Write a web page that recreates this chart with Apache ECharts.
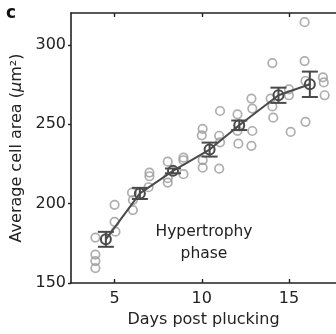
<!DOCTYPE html>
<html><head><meta charset="utf-8">
<script src="https://cdn.jsdelivr.net/npm/echarts@6/dist/echarts.min.js"></script>
<style>html,body{margin:0;padding:0;background:#fff}#c{width:336px;height:334px}</style>
</head><body><div id="c"></div>
<script>
// individual measurements (day, area)
const pointDays = [3.9,3.9,3.9,3.9,5.0,5.0,5.05,
  6.0,6.05,6.05,6.95,7.0,7.0,
  8.05,8.05,8.05,8.95,8.95,8.95,
  10.05,10.0,10.05,10.05,11.05,11.0,11.05,11.0,
  12.05,12.05,12.1,12.85,12.9,12.9,12.85,
  14.05,13.95,14.05,14.1,15.0,15.0,15.1,
  15.9,15.9,15.95,15.95,16.95,17.0,17.05];
const pointAreas = [178.6,167.9,163.8,159.4,199.2,188.5,182.3,
  206.9,202.2,195.9,210.3,217.2,219.5,
  226.4,216,213.2,228.9,227.3,218.5,
  247.1,243,227.3,222.6,258.3,242.7,238.6,222,
  256.2,245.8,237.7,266.1,259.8,245.7,236.4,
  288.5,266.1,261.2,254.1,271.9,268.2,245.1,
  314.2,289.7,277.2,251.5,279.5,276.3,268.2];
// group means with error
const meanDays = [4.5,6.45,8.35,10.45,12.15,14.4,16.2];
const meanAreas = [177.5,206.4,220.6,234,249.3,268.2,275.1];
const meanErr = [4.7,3.5,1.5,4.4,3,4.8,8];
const xTicks = [5,10,15];
const yTicks = [150,200,250,300];

const FONT = 'DejaVu Sans';
const chart = echarts.init(document.getElementById('c'));
const pts = pointDays.map((d,i)=>[d,pointAreas[i]]);
const means = meanDays.map((d,i)=>[d,meanAreas[i]]);
const errs = meanDays.map((d,i)=>[d,meanAreas[i]-meanErr[i],meanAreas[i]+meanErr[i]]);

chart.setOption({
  animation:false,
  backgroundColor:'#fff',
  textStyle:{fontFamily:FONT},
  grid:{left:71,top:13,right:0,bottom:51,containLabel:false},
  graphic:[
    {type:'text',left:6,top:5,style:{text:'c',font:'bold 17px "DejaVu Sans"',fill:'#111'}},
    {type:'text',x:204,y:243,style:{text:'Hypertrophy\nphase',font:'15.5px "DejaVu Sans"',fill:'#222',align:'center',verticalAlign:'middle',lineHeight:21.6}}
  ],
  xAxis:[{
    type:'value',min:2.5,max:17.7,
    name:'Days post plucking',nameLocation:'middle',nameGap:28,
    nameTextStyle:{fontSize:16,color:'#222',fontFamily:FONT},
    axisLine:{lineStyle:{color:'#222',width:1.6}},
    axisTick:{inside:true,length:4,customValues:xTicks,lineStyle:{color:'#222',width:1.4}},
    axisLabel:{fontSize:16,color:'#222',fontFamily:FONT,margin:8,customValues:xTicks},
    splitLine:{show:false}
  },{
    type:'value',min:2.5,max:17.7,position:'top',
    axisLine:{show:true,lineStyle:{color:'#222',width:1.6}},
    axisTick:{inside:true,length:4,customValues:xTicks,lineStyle:{color:'#222',width:1.4}},
    axisLabel:{show:false},splitLine:{show:false}
  }],
  yAxis:{
    type:'value',min:150,max:320,
    name:'{a|Average cell area (}{b|μ}{a|m²)}',nameLocation:'middle',nameRotate:90,nameGap:44,
    nameTextStyle:{rich:{a:{fontSize:16,color:'#222',fontFamily:FONT},b:{fontSize:16,color:'#222',fontFamily:FONT,fontStyle:'italic'}}},
    axisLine:{show:true,lineStyle:{color:'#222',width:1.6}},
    axisTick:{inside:false,length:3,customValues:yTicks,lineStyle:{color:'#222',width:1.4}},
    axisLabel:{fontSize:16,color:'#222',fontFamily:FONT,margin:5,customValues:yTicks},
    splitLine:{show:false}
  },
  series:[
    {type:'scatter',data:pts,symbol:'circle',symbolSize:8.5,z:2,
      itemStyle:{color:'rgba(255,255,255,0)',borderColor:'#9a9a9a',borderWidth:1.7}},
    {type:'custom',data:errs,z:3,
      renderItem:function(params,api){
        const x=api.value(0);
        const lo=api.coord([x,api.value(1)]);
        const hi=api.coord([x,api.value(2)]);
        const w=8;
        const st={stroke:'#4a4a4a',lineWidth:2};
        return {type:'group',children:[
          {type:'line',shape:{x1:lo[0],y1:lo[1],x2:hi[0],y2:hi[1]},style:st},
          {type:'line',shape:{x1:lo[0]-w,y1:lo[1],x2:lo[0]+w,y2:lo[1]},style:st},
          {type:'line',shape:{x1:hi[0]-w,y1:hi[1],x2:hi[0]+w,y2:hi[1]},style:st}
        ]};
      }},
    {type:'line',data:means,symbol:'circle',symbolSize:10,showAllSymbol:true,z:4,
      lineStyle:{color:'#4a4a4a',width:2},
      itemStyle:{color:'rgba(255,255,255,0)',borderColor:'#4a4a4a',borderWidth:2}}
  ]
});
</script></body></html>
